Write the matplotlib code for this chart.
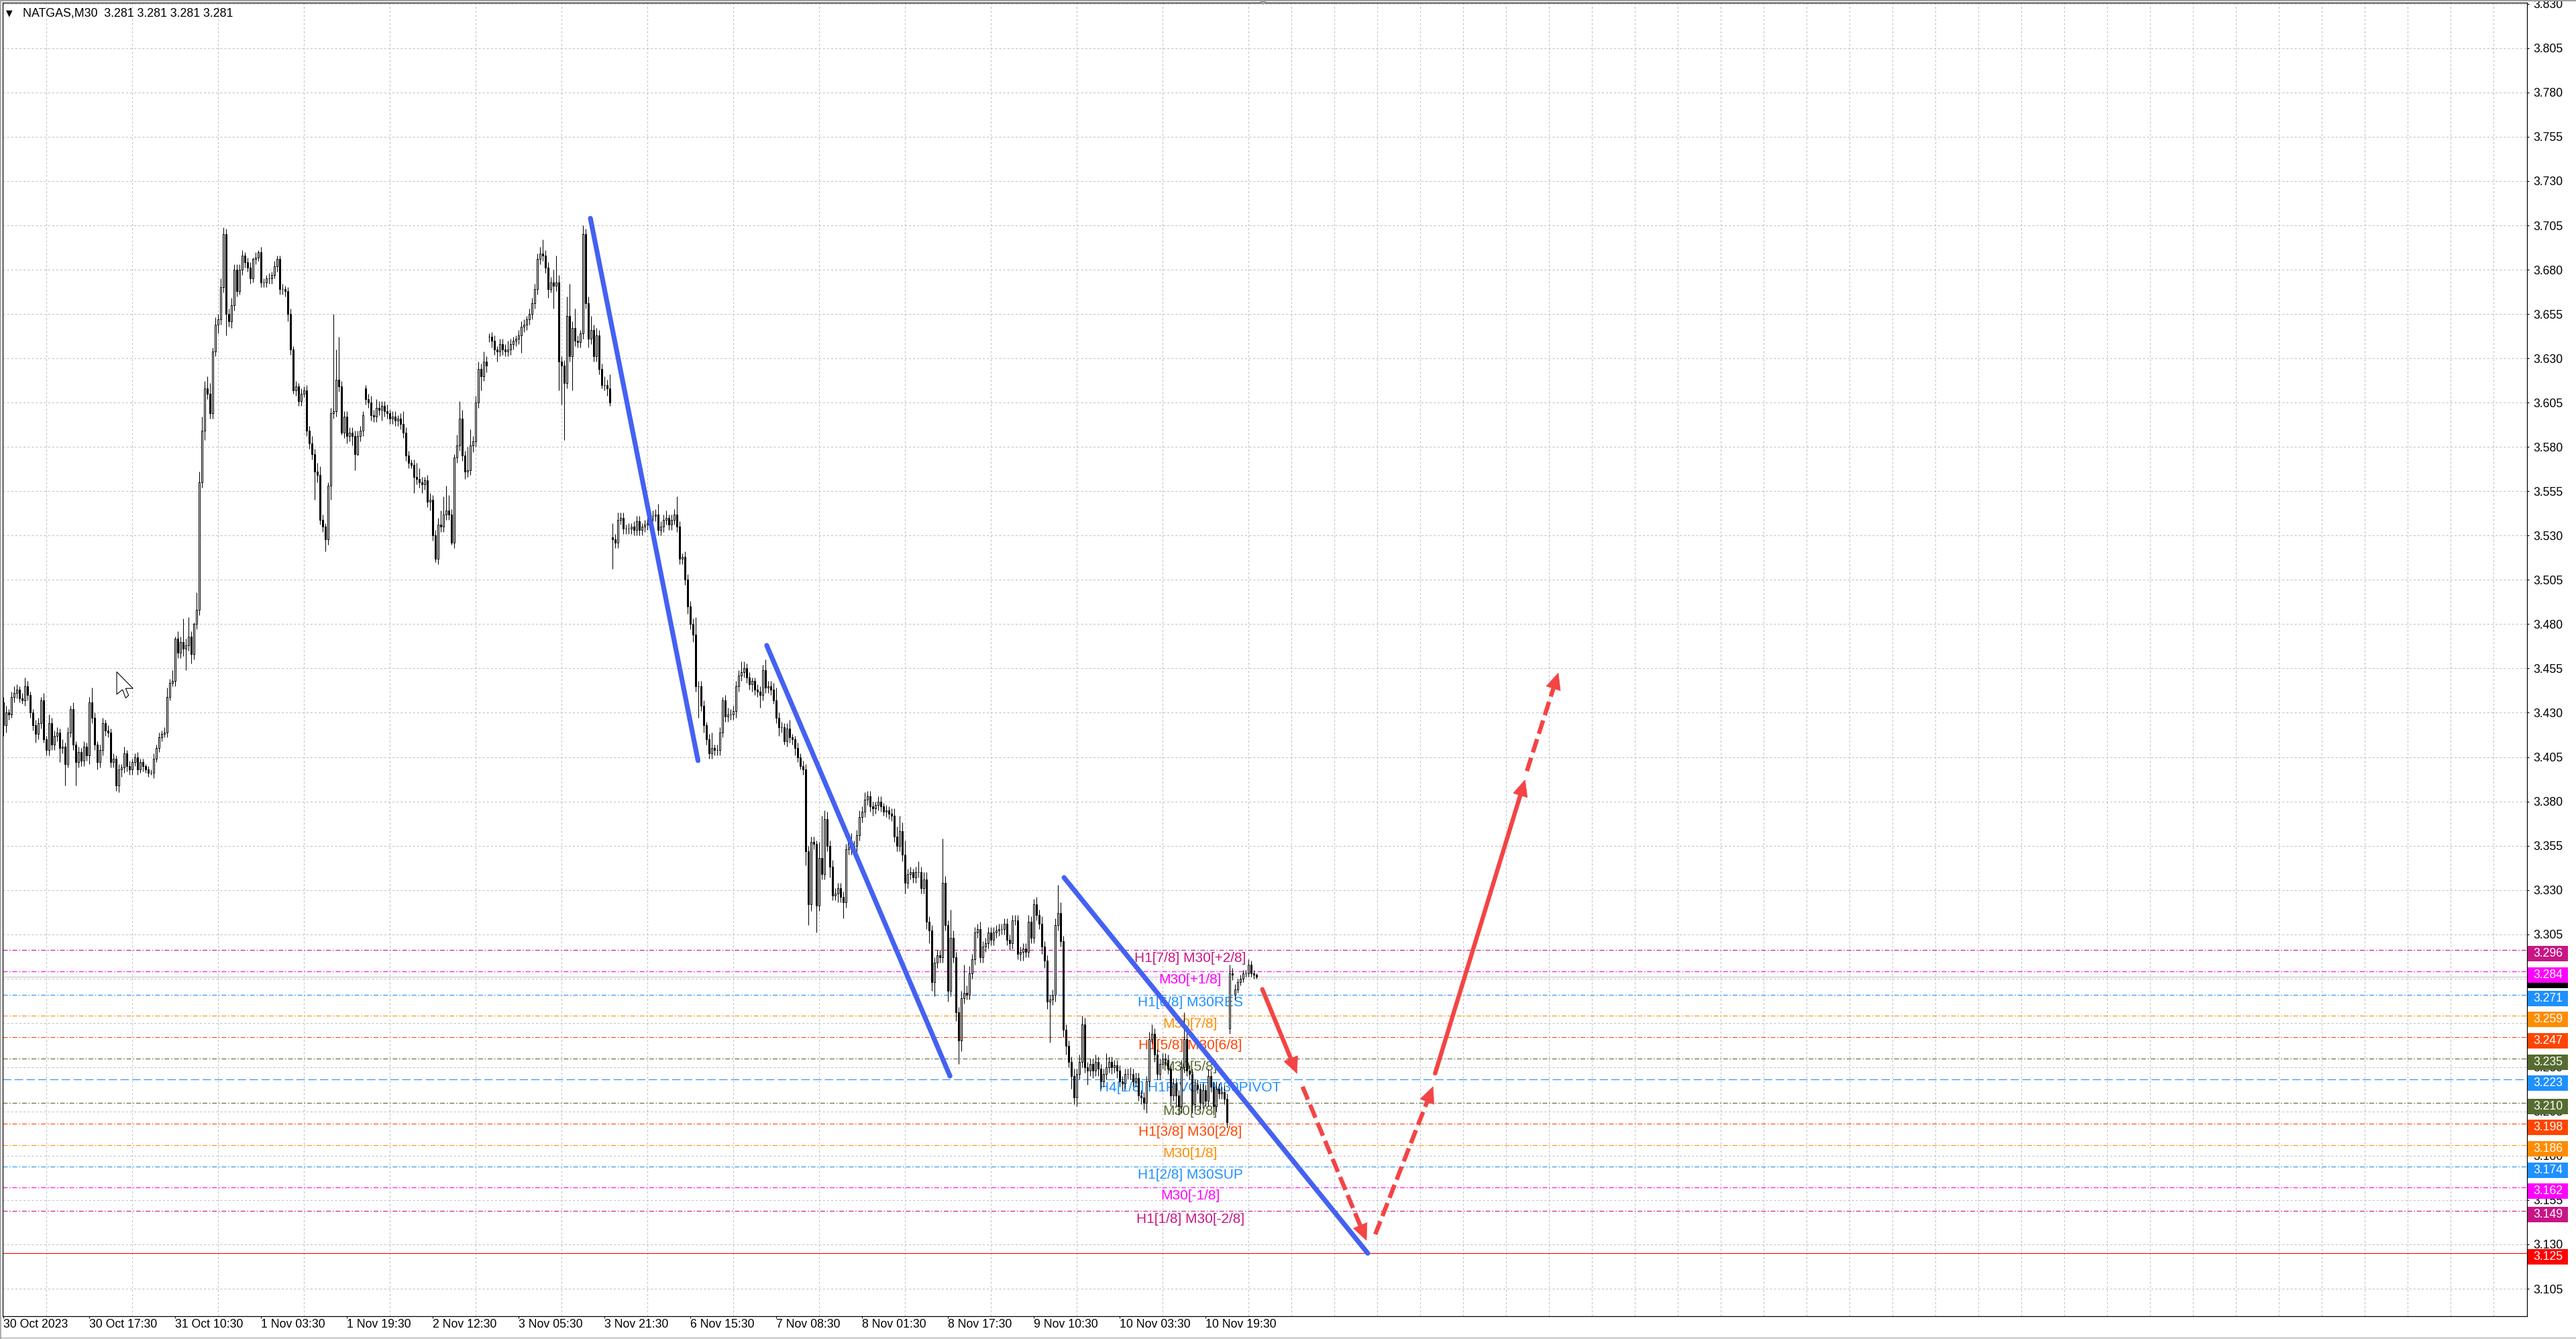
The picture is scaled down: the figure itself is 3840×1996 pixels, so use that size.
import numpy as np
import matplotlib
matplotlib.use('Agg')
import matplotlib.pyplot as plt
from matplotlib.patches import Rectangle, Polygon
from matplotlib.lines import Line2D
from matplotlib.transforms import blended_transform_factory

plt.rcParams['font.family'] = ['Liberation Sans', 'DejaVu Sans']
plt.rcParams['lines.scale_dashes'] = False

W, H, DPI = 3840, 1996, 100

# ---- NATGAS M30 candles (prices in thousandths) ----
close_k = [
    3423, 3430, 3429, 3439, 3441, 3443, 3438, 3437, 3445, 3440,
    3430, 3423, 3418, 3424, 3437, 3415, 3409, 3424, 3412, 3417,
    3419, 3410, 3411, 3401, 3419, 3432, 3412, 3402, 3408, 3403,
    3411, 3406, 3436, 3427, 3412, 3402, 3409, 3424, 3420, 3419,
    3402, 3404, 3389, 3398, 3399, 3407, 3400, 3398, 3402, 3405,
    3398, 3402, 3400, 3398, 3396, 3396, 3404, 3410, 3416, 3418,
    3419, 3439, 3447, 3448, 3472, 3464, 3470, 3466, 3468, 3473,
    3463, 3480, 3488, 3560, 3589, 3613, 3610, 3599, 3634, 3649,
    3652, 3670, 3700, 3655, 3651, 3660, 3680, 3668, 3680, 3688,
    3684, 3681, 3675, 3686, 3687, 3690, 3673, 3673, 3675, 3675,
    3677, 3682, 3686, 3669, 3669, 3668, 3655, 3635, 3612, 3614,
    3606, 3610, 3612, 3589, 3582, 3576, 3566, 3564, 3539, 3535,
    3528, 3558, 3599, 3600, 3618, 3614, 3588, 3597, 3586, 3588,
    3586, 3576, 3586, 3589, 3598, 3607, 3605, 3598, 3597, 3602,
    3601, 3603, 3600, 3599, 3596, 3597, 3595, 3596, 3593, 3588,
    3575, 3571, 3570, 3563, 3562, 3560, 3559, 3561, 3549, 3550,
    3530, 3517, 3536, 3535, 3542, 3544, 3542, 3526, 3574, 3581,
    3596, 3575, 3566, 3567, 3581, 3583, 3605, 3624, 3620, 3628,
    3626, 3642, 3640, 3635, 3634, 3638, 3635, 3634, 3635, 3638,
    3640, 3641, 3643, 3648, 3649, 3652, 3655, 3661, 3669, 3686,
    3689, 3688, 3681, 3669, 3673, 3671, 3673, 3628, 3626, 3616,
    3654, 3631, 3647, 3640, 3639, 3644, 3700, 3661, 3641, 3646,
    3631, 3643, 3624, 3615, 3615, 3613, 3605, 3528, 3526, 3539,
    3540, 3534, 3534, 3534, 3535, 3533, 3538, 3533, 3535, 3536,
    3537, 3541, 3541, 3542, 3533, 3535, 3539, 3540, 3536, 3539,
    3542, 3535, 3517, 3518, 3505, 3490, 3480, 3474, 3445, 3445,
    3434, 3423, 3415, 3407, 3410, 3409, 3409, 3419, 3437, 3428,
    3429, 3429, 3431, 3445, 3451, 3453, 3455, 3450, 3446, 3448,
    3443, 3442, 3440, 3454, 3444, 3445, 3443, 3437, 3427, 3422,
    3422, 3414, 3421, 3416, 3415, 3410, 3405, 3400, 3398, 3352,
    3322, 3357, 3356, 3321, 3348, 3339, 3370, 3355, 3343, 3327,
    3328, 3331, 3326, 3323, 3353, 3357, 3353, 3355, 3361, 3371,
    3374, 3381, 3383, 3377, 3376, 3378, 3380, 3377, 3374, 3375,
    3373, 3372, 3360, 3355, 3363, 3350, 3334, 3339, 3340, 3337,
    3340, 3340, 3331, 3336, 3312, 3307, 3278, 3289, 3293, 3292,
    3334, 3310, 3273, 3303, 3292, 3261, 3245, 3269, 3272, 3271,
    3283, 3291, 3306, 3308, 3292, 3298, 3300, 3306, 3302, 3306,
    3307, 3308, 3308, 3311, 3302, 3300, 3313, 3313, 3294, 3295,
    3297, 3295, 3312, 3303, 3322, 3316, 3311, 3298, 3290, 3267,
    3268, 3271, 3310, 3317, 3301, 3251, 3242, 3233, 3225, 3213,
    3226, 3233, 3254, 3230, 3228, 3232, 3228, 3233, 3229, 3222,
    3226, 3230, 3233, 3230, 3231, 3228, 3222, 3221, 3226, 3226,
    3226, 3222, 3224, 3214, 3213, 3210, 3222, 3246, 3249, 3237,
    3226, 3232, 3235, 3234, 3229, 3214, 3221, 3214, 3208, 3230,
    3246, 3228, 3226, 3209, 3220, 3218, 3210, 3217, 3211, 3225,
    3219, 3208, 3218, 3215, 3216, 3212, 3199, 3283, 3282, 3274,
    3278, 3280, 3283, 3283, 3288, 3283, 3282, 3281,
]
# upper / lower wick lengths (thousandths)
up_k = [
    3, 4, 2, 3, 4, 3, 2, 3, 5, 3,   2, 2, 3, 3, 2, 4, 2, 5, 3, 3,
    3, 2, 4, 2, 3, 2, 4, 2, 3, 2,   3, 2, 3, 8, 3, 2, 3, 3, 2, 3,
    2, 3, 2, 3, 2, 4, 2, 3, 2, 2,   3, 2, 2, 1, 2, 2, 3, 2, 3, 2,
    3, 5, 2, 6, 1, 4, 3, 13, 4, 11, 3, 1, 10, 6, 8, 4, 7, 6, 2, 4,
    3, 5, 4, 3, 3, 4, 3, 3, 3, 3,   2, 3, 3, 1, 3, 1, 3, 2, 2, 3,
    2, 3, 2, 2, 3, 2, 2, 3, 2, 3,   2, 3, 2, 3, 3, 4, 3, 5, 5, 3,
    2, 2, 3, 55, 17, 24, 3, 3, 3, 3, 3, 3, 3, 3, 2, 2, 3, 4, 3, 5,
    4, 3, 3, 4, 2, 3, 3, 2, 3, 7,   3, 3, 2, 3, 8, 6, 3, 2, 3, 4,
    3, 3, 4, 8, 10, 14, 9, 3, 2, 6, 10, 5, 3, 13, 9, 3, 4, 4, 3, 6,
    3, 2, 3, 3, 2, 3, 3, 3, 5, 3,   2, 2, 3, 3, 3, 2, 3, 3, 3, 3,
    4, 8, 3, 3, 3, 7, 15, 4, 3, 3,  11, 18, 4, 11, 3, 2, 5, 3, 4, 8,
    3, 4, 3, 3, 5, 3, 8, 8, 3, 4,   3, 3, 2, 3, 2, 3, 3, 3, 2, 3,
    3, 2, 3, 3, 6, 3, 3, 4, 2, 3,   3, 10, 3, 2, 3, 3, 3, 3, 10, 3,
    3, 3, 2, 3, 9, 2, 3, 3, 2, 3,   4, 3, 3, 3, 3, 6, 4, 3, 3, 2,
    2, 3, 3, 3, 6, 3, 3, 4, 7, 3,   3, 2, 3, 5, 2, 2, 3, 2, 3, 3,
    3, 3, 3, 2, 9, 24, 5, 4, 3, 4,  3, 3, 3, 3, 3, 3, 5, 3, 3, 4,
    3, 4, 3, 3, 3, 2, 3, 3, 2, 3,   2, 3, 4, 6, 9, 5, 8, 3, 3, 2,
    3, 6, 3, 4, 4, 3, 3, 3, 3, 3,   25, 4, 3, 16, 4, 3, 3, 4, 16, 4,
    4, 3, 3, 3, 4, 3, 3, 3, 3, 3,   3, 3, 3, 3, 3, 3, 3, 3, 3, 3,
    3, 3, 4, 3, 3, 4, 3, 4, 3, 3,   3, 3, 4, 16, 6, 3, 3, 3, 3, 4,
    3, 4, 5, 4, 3, 3, 3, 4, 3, 3,   3, 8, 3, 3, 3, 3, 3, 3, 3, 3,
    4, 3, 3, 3, 3, 3, 3, 4, 5, 3,   3, 3, 3, 3, 3, 3, 3, 3, 3, 4,
    15, 5, 3, 3, 3, 3, 3, 4, 3, 4,  3, 3, 4, 3, 3, 4, 3, 5, 3, 3,
    2, 2, 2, 2, 3, 2, 2, 1,
]
dn_k = [
    6, 4, 3, 2, 3, 3, 2, 2, 3, 3,   3, 3, 5, 3, 3, 2, 3, 3, 3, 3,
    3, 8, 3, 12, 2, 3, 3, 13, 3, 3, 3, 3, 5, 3, 3, 4, 3, 3, 3, 3,
    3, 3, 3, 4, 4, 3, 3, 3, 3, 2,   3, 2, 3, 2, 2, 1, 3, 2, 2, 2,
    2, 3, 2, 2, 3, 3, 3, 4, 12, 3,  5, 3, 3, 3, 3, 5, 3, 3, 3, 3,
    5, 3, 3, 12, 3, 4, 3, 3, 2, 3,  3, 2, 3, 2, 3, 2, 3, 3, 3, 3,
    3, 2, 3, 3, 3, 3, 4, 3, 2, 3,   3, 3, 2, 3, 3, 3, 16, 4, 3, 3,
    7, 3, 8, 3, 3, 3, 1, 3, 4, 3,   5, 9, 1, 3, 3, 3, 3, 3, 3, 3,
    3, 6, 3, 3, 3, 3, 3, 3, 3, 3,   3, 3, 2, 9, 3, 3, 5, 3, 3, 5,
    3, 2, 3, 3, 3, 3, 3, 1, 3, 3,   3, 3, 4, 3, 3, 4, 3, 3, 8, 3,
    4, 3, 4, 3, 6, 3, 3, 3, 3, 3,   3, 3, 3, 10, 3, 3, 3, 3, 3, 3,
    3, 3, 3, 5, 2, 13, 3, 16, 22, 32, 3, 3, 19, 3, 3, 3, 3, 3, 5, 3,
    3, 3, 3, 2, 3, 4, 2, 17, 3, 3,  3, 3, 3, 3, 3, 3, 3, 3, 3, 3,
    3, 3, 3, 3, 3, 3, 3, 3, 3, 3,   3, 3, 3, 3, 3, 4, 3, 4, 3, 18,
    3, 4, 3, 3, 3, 3, 3, 3, 3, 3,   3, 3, 3, 4, 3, 3, 3, 3, 3, 4,
    3, 3, 7, 3, 3, 3, 3, 2, 3, 5,   3, 2, 3, 3, 3, 4, 3, 2, 3, 8,
    12, 4, 3, 15, 3, 3, 3, 3, 6, 3, 3, 5, 3, 9, 3, 3, 3, 3, 3, 3,
    3, 3, 3, 3, 4, 3, 3, 3, 2, 3,   3, 3, 3, 3, 3, 4, 6, 3, 3, 3,
    3, 3, 3, 3, 4, 7, 5, 8, 3, 3,   3, 3, 6, 3, 3, 5, 13, 6, 3, 3,
    3, 3, 3, 3, 3, 3, 3, 3, 3, 3,   3, 3, 3, 3, 3, 4, 3, 3, 3, 4,
    5, 3, 3, 3, 3, 3, 3, 4, 4, 4,   23, 3, 4, 3, 3, 4, 5, 3, 7, 4,
    5, 3, 3, 3, 8, 3, 4, 3, 4, 4,   3, 3, 3, 4, 3, 4, 3, 4, 3, 3,
    3, 3, 3, 3, 4, 4, 6, 3, 3, 4,   3, 3, 3, 3, 3, 6, 3, 6, 5, 4,
    3, 3, 3, 5, 4, 3, 4, 3, 3, 3,   3, 5, 3, 3, 3, 3, 3, 3, 3, 3,
    2, 2, 2, 2, 2, 2, 2, 1,
]
# bars whose open is not the previous close (session gaps)
gap_open_k = {0: 3436, 135: 3613, 181: 3642, 227: 3529, 457: 3252, 459: 3271}

x_labels = ['30 Oct 2023', '30 Oct 17:30', '31 Oct 10:30', '1 Nov 03:30', '1 Nov 19:30',
            '2 Nov 12:30', '3 Nov 05:30', '3 Nov 21:30', '6 Nov 15:30', '7 Nov 08:30',
            '8 Nov 01:30', '8 Nov 17:30', '9 Nov 10:30', '10 Nov 03:30', '10 Nov 19:30']
label_step = 32

# Murrey-style levels
level_prices = [3.296, 3.284, 3.271, 3.259, 3.247, 3.235, 3.223, 3.210, 3.198, 3.186, 3.174, 3.162, 3.149]
level_names = ['H1[7/8] M30[+2/8]', 'M30[+1/8]', 'H1[6/8] M30RES', 'M30[7/8]', 'H1[5/8] M30[6/8]',
               'M30[5/8]', 'H4[1/8] H1PIVOT M30PIVOT', 'M30[3/8]', 'H1[3/8] M30[2/8]', 'M30[1/8]',
               'H1[2/8] M30SUP', 'M30[-1/8]', 'H1[1/8] M30[-2/8]']
level_colors = ['#C71585', '#FF00FF', '#1E90FF', '#FF8C00', '#FF4500', '#556B2F', '#1E90FF',
                '#556B2F', '#FF4500', '#FF8C00', '#1E90FF', '#FF00FF', '#C71585']
label_bar = 442.2
target_price = 3.125
bid_price = 3.281

# trend lines (bar, price)
trend_lines = [((218.7, 3.709), (258.8, 3.403)),
               ((284.4, 3.468), (352.7, 3.225)),
               ((395.2, 3.337), (508.4, 3.125))]
# forecast arrows: start, tip, dashed
arrows = [((469.1, 3.2740), (482.0, 3.2265), False),
          ((484.1, 3.2190), (507.9, 3.1323), True),
          ((511.2, 3.1357), (532.7, 3.2190), True),
          ((533.5, 3.2265), (567.0, 3.3921), False),
          ((567.7, 3.3971), (579.4, 3.4524), True)]

closes = np.array(close_k) / 1000.0
opens = np.r_[closes[0], closes[:-1]]
for i, v in gap_open_k.items():
    opens[i] = v / 1000.0
highs = np.maximum(opens, closes) + np.array(up_k) / 1000.0
lows = np.minimum(opens, closes) - np.array(dn_k) / 1000.0
xs = np.arange(len(closes))

BLUE = '#4461F2'
RED = '#F44444'

fig = plt.figure(figsize=(W / DPI, H / DPI), dpi=DPI, facecolor='white')
# plot frame in pixels: x 4..3766.7, y 4..1962
ax = fig.add_axes([4 / W, (H - 1962) / H, 3762.7 / W, 1958 / H])
ax.set_facecolor('white')
ax.set_xlim(-0.325, 940.35)
ax.set_ylim(3.08949, 3.83068)

for s in ax.spines.values():
    s.set_color('black')
    s.set_linewidth(0.9)

# axes / grid
yt = np.round(np.arange(3.105, 3.8301, 0.025), 3)
ax.set_yticks(yt)
ax.set_yticklabels([f'{v:.3f}' for v in yt])
ax.yaxis.tick_right()
ax.tick_params(axis='y', direction='out', length=2.2, width=0.8, pad=4.5, labelsize=12.7, colors='black')

ax.set_xticks(np.arange(len(x_labels)) * label_step)
ax.set_xticklabels(x_labels)
for tl in ax.get_xticklabels():
    tl.set_horizontalalignment('left')
ax.set_xticks(np.arange(16, 940, 16), minor=True)
ax.tick_params(axis='x', which='major', direction='out', length=2.5, width=0.8, pad=0.5, labelsize=12.7)
ax.tick_params(axis='x', which='minor', length=0)
ax.grid(True, axis='x', which='minor', color='#C0C0C0', lw=0.75, linestyle=(0, (2.2, 2.2)), zorder=0)
ax.grid(True, axis='y', which='major', color='#C0C0C0', lw=0.75, linestyle=(0, (2.2, 2.2)), zorder=0)
ax.set_axisbelow(True)

# level lines and labels
for p, name, c in zip(level_prices, level_names, level_colors):
    ls = (0, (9, 3.6)) if 'PIVOT' in name else (0, (5, 2, 1.2, 2))
    ax.axhline(p, color=c, lw=0.8, linestyle=ls, zorder=1.5)
    ax.text(label_bar, p - 0.0011, name, color=c, ha='center', va='top', fontsize=15, zorder=2)
ax.axhline(bid_price, color='#C0C0C0', lw=0.8, zorder=1.4)
ax.axhline(target_price, color='#FF0000', lw=0.8, zorder=1.5)

# candles
ax.vlines(xs, lows, highs, color='black', lw=0.75, zorder=3)
bull = closes >= opens
ax.bar(xs, np.abs(closes - opens), bottom=np.minimum(opens, closes), width=0.55,
       color=np.where(bull, 'white', 'black'), edgecolor='black', linewidth=0.75, zorder=4)

# trend lines
for (x0, y0), (x1, y1) in trend_lines:
    ax.plot([x0, x1], [y0, y1], color=BLUE, lw=5.2, solid_capstyle='round', zorder=5)

# forecast arrows
inv = ax.transData.inverted()
for (x0, y0), (x1, y1), dashed in arrows:
    p0 = ax.transData.transform((x0, y0))
    p1 = ax.transData.transform((x1, y1))
    d = p1 - p0
    u = d / np.hypot(*d)
    n = np.array([-u[1], u[0]])
    base = p1 - u * 24
    bx, by = inv.transform(base)
    if dashed:
        ax.plot([x0, bx], [y0, by], color=RED, lw=4.6, linestyle=(0, (15, 6)),
                dash_capstyle='butt', zorder=6)
    else:
        ax.plot([x0, bx], [y0, by], color=RED, lw=4.6, solid_capstyle='round', zorder=6)
    head = inv.transform(np.array([p1, base + n * 11, base - n * 11]))
    ax.add_patch(Polygon(head, closed=True, facecolor=RED, edgecolor=RED, lw=0.5, zorder=6))

# price boxes on the right scale
bt = blended_transform_factory(ax.transAxes, ax.transData)
px_per_price = 1958 / (3.83068 - 3.08949)
bx0 = (3768 - 4) / 3762.7
bw = 60 / 3762.7
tx = (3776 - 4) / 3762.7


def price_box(p, c, z, with_text=True):
    top = p + 6 / px_per_price
    bot = p - 17 / px_per_price
    ax.add_patch(Rectangle((bx0, bot), bw, top - bot, transform=bt, facecolor=c,
                           edgecolor='none', clip_on=False, zorder=z))
    if with_text:
        ax.text(tx, (top + bot) / 2, f'{p:.3f}', transform=bt, color='white', fontsize=12.7,
                ha='left', va='center', clip_on=False, zorder=z + 0.005)


# bid label sits under the 3.284 box, only its lower edge shows
price_box(bid_price, 'black', 9.0, with_text=False)
for k, (p, c) in enumerate(zip(level_prices, level_colors)):
    price_box(p, c, 9.1 + k * 0.01)
price_box(target_price, '#FF0000', 9.5)

# header text
def fx(px):
    return px / W


def fy(py):
    return 1 - py / H


fig.text(fx(9), fy(20), '\u25bc', fontsize=9, va='center', ha='left', color='black',
         family=['DejaVu Sans'])
fig.text(fx(33.7), fy(20), 'NATGAS,M30  3.281 3.281 3.281 3.281', fontsize=12.8,
         va='center', ha='left', color='black')

# chart shift marker and window frame
fig.add_artist(Polygon([(fx(1876), fy(0)), (fx(1890), fy(0)), (fx(1883), fy(7))],
                       closed=True, facecolor='#A0A0A0', edgecolor='none'))
fig.add_artist(Line2D([0, 1], [fy(1), fy(1)], color='#A0A0A0', lw=1.5))
fig.add_artist(Line2D([0, 1], [fy(1994), fy(1994)], color='#D0D0D0', lw=2))
fig.add_artist(Line2D([fx(0.8), fx(0.8)], [0, 1], color='#A0A0A0', lw=1.2))

# mouse cursor
cur = [(0, 0), (0, 33.5), (8.7, 26.5), (13.3, 39), (17.7, 35), (13.3, 24.7), (24.3, 24.7)]
fig.add_artist(Polygon([(fx(174 + a), fy(1001.5 + b)) for a, b in cur], closed=True,
                       facecolor='white', edgecolor='black', lw=0.8))

fig.savefig('out.png', dpi=DPI, facecolor='white')
